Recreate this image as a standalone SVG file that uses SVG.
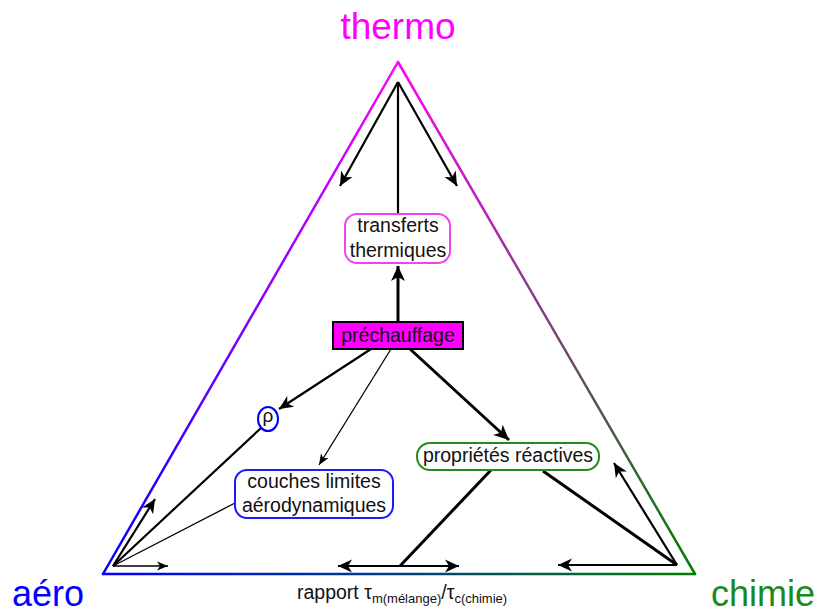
<svg xmlns="http://www.w3.org/2000/svg" width="821" height="614" viewBox="0 0 821 614">
<style>
  text { font-family: "Liberation Sans", Arial, sans-serif; fill: #111; }
  .big { font-size: 37px; }
  .corner { font-size: 36px; }
  .lbl { font-size: 19.5px; text-anchor: middle; }
  .box { fill: #fff; stroke-width: 2; }
  .thick { stroke: #000; stroke-width: 3; fill: none; }
  .mid { stroke: #000; stroke-width: 2.2; fill: none; }
  .thin { stroke: #000; stroke-width: 1.3; fill: none; }
  .edge { stroke-width: 2.5; fill: none; stroke-linecap: round; }
</style>
<defs>
  <linearGradient id="gL" gradientUnits="userSpaceOnUse" x1="103" y1="574" x2="398" y2="62">
    <stop offset="0" stop-color="#0000ff"/><stop offset="1" stop-color="#ff00ff"/>
  </linearGradient>
  <linearGradient id="gR" gradientUnits="userSpaceOnUse" x1="398" y1="62" x2="695" y2="574">
    <stop offset="0" stop-color="#ff00ff"/><stop offset="1" stop-color="#008000"/>
  </linearGradient>
  <linearGradient id="gB" gradientUnits="userSpaceOnUse" x1="103" y1="574" x2="695" y2="574">
    <stop offset="0" stop-color="#0000ff"/><stop offset="1" stop-color="#008000"/>
  </linearGradient>
  <marker id="aBig" markerUnits="userSpaceOnUse" viewBox="-16 -8 18 16" markerWidth="18" markerHeight="16" refX="0" refY="0" orient="auto" overflow="visible">
    <path d="M0,0 L-15,-7 L-11,0 L-15,7 Z" fill="#000"/>
  </marker>
  <marker id="aMid" markerUnits="userSpaceOnUse" viewBox="-15 -7 17 14" markerWidth="17" markerHeight="14" refX="0" refY="0" orient="auto" overflow="visible">
    <path d="M0,0 L-14,-6.5 L-10,0 L-14,6.5 Z" fill="#000"/>
  </marker>
  <marker id="aSmall" markerUnits="userSpaceOnUse" viewBox="-12 -6 14 12" markerWidth="14" markerHeight="12" refX="0" refY="0" orient="auto" overflow="visible">
    <path d="M0,0 L-11,-4.5 L-8,0 L-11,4.5 Z" fill="#000"/>
  </marker>
</defs>

<g id="triangle">
  <line class="edge" x1="103" y1="574" x2="398" y2="62" stroke="url(#gL)"/>
  <line class="edge" x1="398" y1="62" x2="695" y2="574" stroke="url(#gR)"/>
  <line class="edge" x1="103" y1="574" x2="695" y2="574" stroke="url(#gB)"/>
</g>

<g id="connectors">
  <line class="mid" x1="398" y1="82" x2="398" y2="214"/>
  <line class="mid" x1="398" y1="82" x2="340" y2="186" marker-end="url(#aMid)"/>
  <line class="mid" x1="398" y1="82" x2="457" y2="186" marker-end="url(#aMid)"/>
  <line class="thick" x1="398" y1="322" x2="398" y2="266" marker-end="url(#aBig)"/>
  <line class="mid" x1="371" y1="349" x2="279" y2="409" marker-end="url(#aMid)"/>
  <line class="thin" x1="391" y1="349" x2="319" y2="465" marker-end="url(#aSmall)"/>
  <line class="thick" x1="410" y1="349" x2="509" y2="440" marker-end="url(#aBig)"/>
  <line class="mid" x1="113" y1="566" x2="261" y2="428"/>
  <line class="mid" x1="113" y1="566" x2="155" y2="499" marker-end="url(#aMid)"/>
  <line class="thin" x1="113" y1="566" x2="235" y2="503"/>
  <line class="thin" x1="113" y1="566" x2="168" y2="566" marker-end="url(#aSmall)"/>
  <line class="mid" x1="400" y1="566" x2="338" y2="566" marker-end="url(#aMid)"/>
  <line class="mid" x1="400" y1="566" x2="459" y2="566" marker-end="url(#aMid)"/>
  <line class="thick" x1="400" y1="566" x2="491" y2="470"/>
  <line class="thick" x1="677" y1="565" x2="543" y2="471"/>
  <line class="mid" x1="677" y1="565" x2="614" y2="463" marker-end="url(#aMid)"/>
  <line class="mid" x1="677" y1="565" x2="558" y2="565" marker-end="url(#aMid)"/>
</g>

<g id="thermo"><text class="big" x="398" y="39" text-anchor="middle" style="fill:#ff00ff">thermo</text></g>
<g id="aero"><text class="corner" x="12" y="606" style="fill:#0000ff">aéro</text></g>
<g id="chimie"><text class="corner" x="711" y="606" style="fill:#1a8a1a">chimie</text></g>

<g id="transferts">
  <rect class="box" x="345" y="214" width="105" height="49" rx="12" stroke="#ee44ee"/>
  <text class="lbl" x="398" y="232">transferts</text>
  <text class="lbl" x="398" y="257">thermiques</text>
</g>

<g id="prechauffage">
  <rect x="333" y="322" width="130" height="27" fill="#ff00ff" stroke="#000" stroke-width="2"/>
  <text class="lbl" x="398" y="342">préchauffage</text>
</g>

<g id="rho">
  <ellipse cx="268" cy="419" rx="10" ry="12" fill="#fff" stroke="#0000ff" stroke-width="2"/>
  <text class="lbl" x="268" y="422" style="font-size:19px">ρ</text>
</g>

<g id="couches">
  <rect class="box" x="235" y="470" width="158" height="48" rx="12" stroke="#1a1aff"/>
  <text class="lbl" x="314" y="488">couches limites</text>
  <text class="lbl" x="314" y="512">aérodynamiques</text>
</g>

<g id="proprietes">
  <rect class="box" x="417" y="443" width="182" height="27" rx="13" stroke="#228b22"/>
  <text class="lbl" x="508" y="462">propriétés réactives</text>
</g>

<g id="rapport">
  <text x="297" y="599" style="font-size:19.5px">rapport τ<tspan dy="4" style="font-size:13px">m(mélange)</tspan><tspan dy="-4">/τ</tspan><tspan dy="4" style="font-size:13px">c(chimie)</tspan></text>
</g>
</svg>
